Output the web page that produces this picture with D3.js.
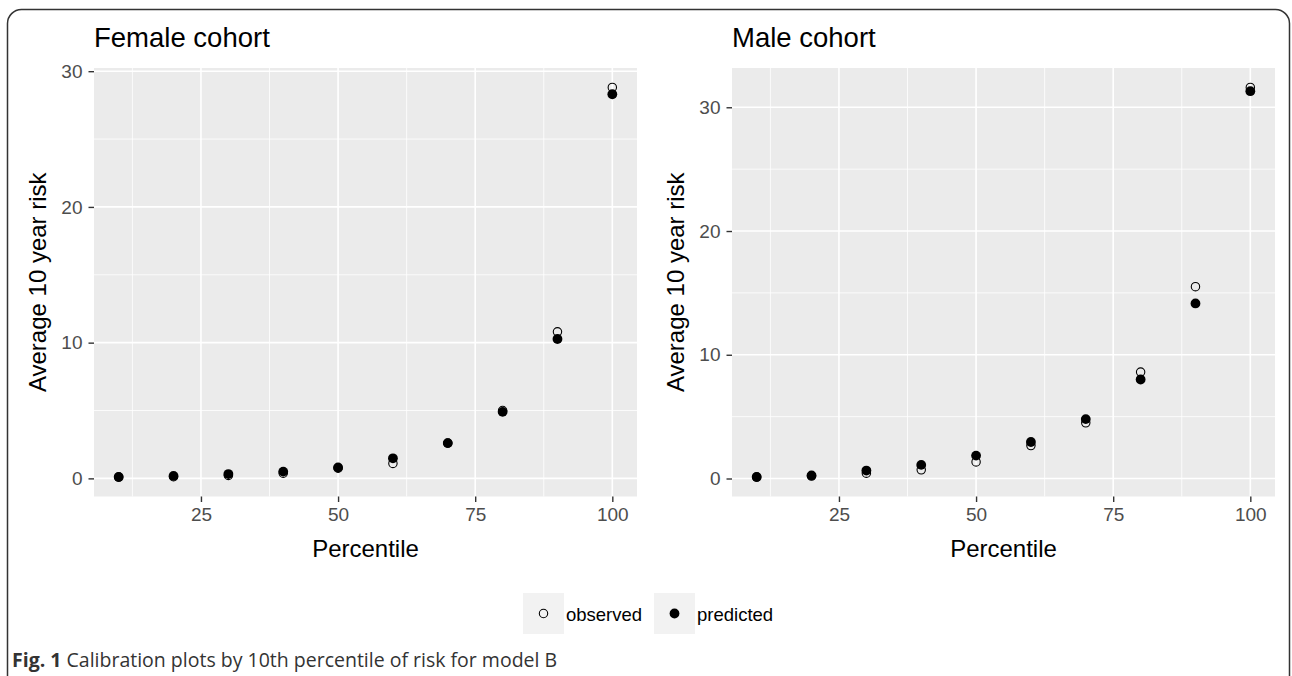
<!DOCTYPE html>
<html>
<head>
<meta charset="utf-8">
<script src="https://cdn.jsdelivr.net/npm/d3@7"></script>
<style>
body { margin: 0; background: #fff; }
svg { display: block; }
</style>
</head>
<body>
<svg id="fig" width="1292" height="676"></svg>
<script>
// data
var percentiles = [10, 20, 30, 40, 50, 60, 70, 80, 90, 100];
var femaleObserved  = [0.1, 0.12, 0.22, 0.38, 0.75, 1.1, 2.6, 5.0, 10.8, 28.8];
var femalePredicted = [0.1, 0.18, 0.32, 0.5, 0.8, 1.48, 2.6, 4.9, 10.27, 28.3];
var maleObserved  = [0.12, 0.2, 0.43, 0.7, 1.34, 2.66, 4.5, 8.6, 15.5, 31.6];
var malePredicted = [0.12, 0.25, 0.64, 1.1, 1.85, 2.95, 4.8, 8.0, 14.15, 31.3];
var xTicks = [25, 50, 75, 100];
var yTicks = [0, 10, 20, 30];
var legendLabels = ["observed", "predicted"];

var font = "Liberation Sans, Arial, sans-serif";
var svg = d3.select("#fig");

// outer frame
svg.append("rect")
  .attr("x", 7.5).attr("y", 9.5)
  .attr("width", 1282).attr("height", 720)
  .attr("rx", 14)
  .attr("fill", "none").attr("stroke", "#333").attr("stroke-width", 1.5);

function expand(vals) {
  var lo = d3.min(vals), hi = d3.max(vals), pad = (hi - lo) * 0.05;
  return [lo - pad, hi + pad];
}

function drawPanel(title, obs, pred, left, right) {
  var top = 68, bottom = 496.5;
  var g = svg.append("g");
  var x = d3.scaleLinear().domain(expand(percentiles)).range([left, right]);
  var y = d3.scaleLinear().domain(expand(obs.concat(pred))).range([bottom, top]);

  g.append("rect").attr("x", left).attr("y", top)
    .attr("width", right - left).attr("height", bottom - top)
    .attr("fill", "#EBEBEB");

  // minor grid
  var xMinor = [12.5, 37.5, 62.5, 87.5];
  var yMinor = [5, 15, 25];
  g.selectAll(".xminor").data(xMinor).enter().append("line")
    .attr("x1", d => x(d)).attr("x2", d => x(d))
    .attr("y1", top).attr("y2", bottom)
    .attr("stroke", "#fff").attr("stroke-width", 0.8);
  g.selectAll(".yminor").data(yMinor).enter().append("line")
    .attr("y1", d => y(d)).attr("y2", d => y(d))
    .attr("x1", left).attr("x2", right)
    .attr("stroke", "#fff").attr("stroke-width", 0.8);
  // major grid
  g.selectAll(".xmajor").data(xTicks).enter().append("line")
    .attr("x1", d => x(d)).attr("x2", d => x(d))
    .attr("y1", top).attr("y2", bottom)
    .attr("stroke", "#fff").attr("stroke-width", 1.6);
  g.selectAll(".ymajor").data(yTicks).enter().append("line")
    .attr("y1", d => y(d)).attr("y2", d => y(d))
    .attr("x1", left).attr("x2", right)
    .attr("stroke", "#fff").attr("stroke-width", 1.6);

  // axes
  var xAxis = g.append("g").attr("transform", "translate(0," + bottom + ")")
    .call(d3.axisBottom(x).tickValues(xTicks).tickSize(5.5).tickPadding(6));
  var yAxis = g.append("g").attr("transform", "translate(" + left + ",0)")
    .call(d3.axisLeft(y).tickValues(yTicks).tickSize(5.5).tickPadding(6));
  [xAxis, yAxis].forEach(function(a) {
    a.attr("font-family", font).attr("font-size", 19);
    a.select(".domain").remove();
    a.selectAll("line").attr("stroke", "#333").attr("stroke-width", 1.4);
    a.selectAll("text").attr("fill", "#4D4D4D");
  });

  // points: observed first, predicted on top
  g.selectAll(".obs").data(percentiles).enter().append("circle")
    .attr("cx", d => x(d)).attr("cy", (d, i) => y(obs[i]))
    .attr("r", 4.2).attr("fill", "none").attr("stroke", "#000").attr("stroke-width", 1.1);
  g.selectAll(".pred").data(percentiles).enter().append("circle")
    .attr("cx", d => x(d)).attr("cy", (d, i) => y(pred[i]))
    .attr("r", 4.9).attr("fill", "#000");

  // titles
  g.append("text").attr("x", left).attr("y", 47)
    .attr("font-family", font).attr("font-size", 27.5).attr("fill", "#000")
    .text(title);
  g.append("text").attr("x", (left + right) / 2).attr("y", 557)
    .attr("text-anchor", "middle")
    .attr("font-family", font).attr("font-size", 24).attr("fill", "#000")
    .text("Percentile");
  g.append("text")
    .attr("transform", "translate(" + (left - 56) + "," + ((top + bottom) / 2) + ") rotate(-90)")
    .attr("text-anchor", "middle").attr("dy", "0.35em")
    .attr("font-family", font).attr("font-size", 24).attr("fill", "#000")
    .text("Average 10 year risk");
}

drawPanel("Female cohort", femaleObserved, femalePredicted, 94, 637);
drawPanel("Male cohort", maleObserved, malePredicted, 732, 1275);

// legend
var legend = svg.append("g");
var keyX = [523, 654];
legendLabels.forEach(function(lab, i) {
  var k = legend.append("g").attr("transform", "translate(" + keyX[i] + ",593)");
  k.append("rect").attr("width", 41).attr("height", 41).attr("fill", "#F2F2F2");
  var c = k.append("circle").attr("cx", 20.5).attr("cy", 20.5);
  if (i == 0) c.attr("r", 4.2).attr("fill", "none").attr("stroke", "#000").attr("stroke-width", 1.1);
  else c.attr("r", 4.9).attr("fill", "#000");
  k.append("text").attr("x", 43).attr("y", 27.5)
    .attr("font-family", font).attr("font-size", 18.5).attr("fill", "#000")
    .text(lab);
});

// caption
var cap = svg.append("text").attr("x", 12).attr("y", 667)
  .attr("font-family", "Open Sans, Noto Sans, sans-serif").attr("font-size", 19.5)
  .attr("fill", "#333");
cap.append("tspan").attr("font-weight", "bold").text("Fig. 1");
cap.append("tspan").text(" Calibration plots by 10th percentile of risk for model B");
</script>
</body>
</html>
